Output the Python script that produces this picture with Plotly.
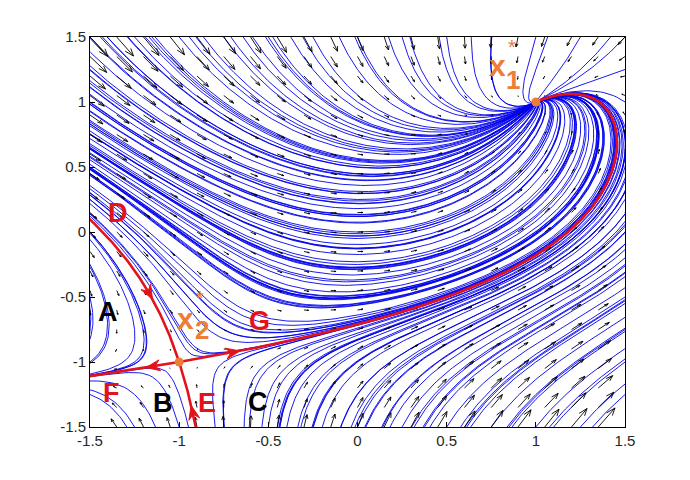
import numpy as np
import plotly.graph_objects as go

# ---------------- data ----------------
tick_vals = [-1.5, -1, -0.5, 0, 0.5, 1, 1.5]
tick_text = ["-1.5", "-1", "-0.5", "0", "0.5", "1", "1.5"]

# equilibria: stable node x1* and saddle x2*
eq_x = [1.0, -1.0]
eq_y = [1.0, -1.0]

# quiver grid
quiver_x = np.linspace(-1.5, 1.5, 21)
quiver_y = np.linspace(-1.5, 1.5, 21)

# streamline seeds
seed_x = np.linspace(-1.5, 1.5, 13)
seed_y = np.linspace(-1.5, 1.5, 13)

# region labels
region_labels = ["A", "B", "C", "D", "E", "F", "G"]
region_label_x = [-1.399, -1.091, -0.558, -1.343, -0.844, -1.377, -0.552]
region_label_y = [-0.615, -1.315, -1.308, 0.146, -1.315, -1.238, -0.685]
region_label_col = ["black", "black", "black", "red", "red", "red", "red"]

# equilibrium labels (pieces of x*_1 and x*_2)
eq_label_text = ["x", "*", "1", "x", "*", "2"]
eq_label_x = [0.783, 0.867, 0.872, -0.967, -0.883, -0.872]
eq_label_y = [1.277, 1.425, 1.169, -0.662, -0.510, -0.754]
eq_label_size = [30, 20, 26, 30, 20, 26]
eq_label_bold = [True, False, True, True, False, True]

# separatrix arrowhead locations (branch, x, y)
arrow_branch = ["stable_up", "unstable_right", "unstable_left", "stable_down"]
arrow_x = [-1.152, -0.66, -1.19, -0.92]
arrow_y = [-0.52, -0.92, -1.02, -1.33]

# ---------------- model ----------------
def field(x, y):
    return 1 - x * y, x - y ** 3


def jacobian(x, y):
    return np.array([[-y, -x], [1.0, -3 * y ** 2]])


XMIN, XMAX, YMIN, YMAX = -1.5, 1.5, -1.5, 1.5


def integrate(x0, y0, sign, h=0.02, nmax=500, node=(1.0, 1.0)):
    x = np.array(x0, float)
    y = np.array(y0, float)
    n = len(x)
    X = np.full((nmax + 1, n), np.nan)
    Y = np.full((nmax + 1, n), np.nan)
    X[0], Y[0] = x, y
    alive = np.ones(n, bool)

    def g(x, y):
        u, v = field(x, y)
        m = np.hypot(u, v) + 1e-12
        return sign * u / m, sign * v / m

    for i in range(nmax):
        k1 = g(x, y)
        k2 = g(x + h / 2 * k1[0], y + h / 2 * k1[1])
        k3 = g(x + h / 2 * k2[0], y + h / 2 * k2[1])
        k4 = g(x + h * k3[0], y + h * k3[1])
        xn = x + h / 6 * (k1[0] + 2 * k2[0] + 2 * k3[0] + k4[0])
        yn = y + h / 6 * (k1[1] + 2 * k2[1] + 2 * k3[1] + k4[1])
        u, v = field(x, y)
        slow = np.hypot(u, v) < 1e-4
        alive &= ~slow
        X[i + 1] = np.where(alive, xn, np.nan)
        Y[i + 1] = np.where(alive, yn, np.nan)
        out = (xn < XMIN - 0.02) | (xn > XMAX + 0.02) | (yn < YMIN - 0.02) | (yn > YMAX + 0.02)
        if sign > 0:
            near = np.hypot(xn - node[0], yn - node[1]) < h
            X[i + 1] = np.where(alive & near, node[0], X[i + 1])
            Y[i + 1] = np.where(alive & near, node[1], Y[i + 1])
            alive &= ~near
        alive &= ~out
        x, y = xn, yn
        if not alive.any():
            break
    return X, Y


def to_segments(X, Y):
    xs, ys = [], []
    for j in range(X.shape[1]):
        col_x = X[:, j]
        col_y = Y[:, j]
        ok = ~np.isnan(col_x)
        if ok.sum() < 2:
            continue
        xs.extend(col_x[ok].tolist() + [None])
        ys.extend(col_y[ok].tolist() + [None])
    return xs, ys


# ---------------- streamlines ----------------
SX, SY = np.meshgrid(seed_x, seed_y)
sx, sy = SX.ravel(), SY.ravel()
Xf, Yf = integrate(sx, sy, +1)
Xb, Yb = integrate(sx, sy, -1)
fx, fy = to_segments(Xf, Yf)
bx, by = to_segments(Xb, Yb)
stream_x = fx + bx
stream_y = fy + by

# ---------------- quiver (MATLAB-like autoscale) ----------------
QX, QY = np.meshgrid(quiver_x, quiver_y)
QU, QV = field(QX, QY)
ngrid = np.sqrt(QX.size)
delx = (QX.max() - QX.min()) / ngrid
dely = (QY.max() - QY.min()) / ngrid
dl = delx ** 2 + dely ** 2
lens = np.sqrt((QU ** 2 + QV ** 2) / dl)
scale = 0.9 / lens.max()
U = QU * scale
V = QV * scale
alpha, beta = 0.33, 0.33
qx, qy = [], []
for x0, y0, u, v in zip(QX.ravel(), QY.ravel(), U.ravel(), V.ravel()):
    qx += [x0, x0 + u, None]
    qy += [y0, y0 + v, None]
    qx += [x0 + u - alpha * (u + beta * v), x0 + u, x0 + u - alpha * (u - beta * v), None]
    qy += [y0 + v - alpha * (v - beta * u), y0 + v, y0 + v - alpha * (v + beta * u), None]

# ---------------- separatrices ----------------
sx0, sy0 = eq_x[1], eq_y[1]
w, vecs = np.linalg.eig(jacobian(sx0, sy0))
iu = int(np.argmax(w))
isd = int(np.argmin(w))
vu = vecs[:, iu] / np.linalg.norm(vecs[:, iu])
vs = vecs[:, isd] / np.linalg.norm(vecs[:, isd])
if vu[0] < 0:
    vu = -vu
if vs[1] < 0:
    vs = -vs  # vs points up-left
eps = 1e-3
branches = {}
Xr, Yr = integrate([sx0 + eps * vu[0]], [sy0 + eps * vu[1]], +1, h=0.005, nmax=2000)
branches["unstable_right"] = (Xr[:, 0], Yr[:, 0], +1)
Xr, Yr = integrate([sx0 - eps * vu[0]], [sy0 - eps * vu[1]], +1, h=0.005, nmax=2000)
branches["unstable_left"] = (Xr[:, 0], Yr[:, 0], +1)
Xr, Yr = integrate([sx0 + eps * vs[0]], [sy0 + eps * vs[1]], -1, h=0.005, nmax=2000)
branches["stable_up"] = (Xr[:, 0], Yr[:, 0], -1)
Xr, Yr = integrate([sx0 - eps * vs[0]], [sy0 - eps * vs[1]], -1, h=0.005, nmax=2000)
branches["stable_down"] = (Xr[:, 0], Yr[:, 0], -1)

red_x, red_y = [], []
for key in ["unstable_right", "unstable_left", "stable_up", "stable_down"]:
    bxr, byr, _ = branches[key]
    ok = ~np.isnan(bxr)
    red_x += [sx0] + bxr[ok].tolist() + [None]
    red_y += [sy0] + byr[ok].tolist() + [None]

# arrowheads (built in pixel space)
PX = 535 / 3.0
PY = 390 / 3.0
ah_x, ah_y = [], []
for key, ax_, ay_ in zip(arrow_branch, arrow_x, arrow_y):
    bxr, byr, sgn = branches[key]
    ok = ~np.isnan(bxr)
    cx, cy = bxr[ok], byr[ok]
    k = int(np.argmin((cx - ax_) ** 2 + (cy - ay_) ** 2))
    k = min(max(k, 2), len(cx) - 3)
    dxp = (cx[k + 2] - cx[k - 2]) * PX * sgn
    dyp = (cy[k + 2] - cy[k - 2]) * PY * sgn
    m = np.hypot(dxp, dyp)
    dxp, dyp = dxp / m, dyp / m
    nxp, nyp = -dyp, dxp
    L, W = 14.0, 5.5
    tipx, tipy = cx[k] * PX, cy[k] * PY
    pts = [
        (tipx, tipy),
        (tipx - L * dxp + W * nxp, tipy - L * dyp + W * nyp),
        (tipx - 0.65 * L * dxp, tipy - 0.65 * L * dyp),
        (tipx - L * dxp - W * nxp, tipy - L * dyp - W * nyp),
        (tipx, tipy),
    ]
    ah_x += [p[0] / PX for p in pts] + [None]
    ah_y += [p[1] / PY for p in pts] + [None]

RED = "#E3121B"
ORANGE = "#EE7D35"

fig = go.Figure()
fig.add_trace(go.Scatter(x=stream_x, y=stream_y, mode="lines",
                         line=dict(color="rgb(0,0,235)", width=0.9), hoverinfo="skip"))
fig.add_trace(go.Scatter(x=qx, y=qy, mode="lines",
                         line=dict(color="black", width=0.9), hoverinfo="skip"))
fig.add_trace(go.Scatter(x=red_x, y=red_y, mode="lines",
                         line=dict(color=RED, width=2.6), hoverinfo="skip"))
fig.add_trace(go.Scatter(x=ah_x, y=ah_y, mode="lines", fill="toself", fillcolor=RED,
                         line=dict(color=RED, width=1), hoverinfo="skip"))
fig.add_trace(go.Scatter(x=eq_x, y=eq_y, mode="markers",
                         marker=dict(color=ORANGE, size=9), hoverinfo="skip"))

for t, x, y, c in zip(region_labels, region_label_x, region_label_y, region_label_col):
    fig.add_annotation(x=x, y=y, text="<b>" + t + "</b>", showarrow=False,
                       font=dict(family="Arial, Liberation Sans", size=27,
                                 color=(RED if c == "red" else "black")),
                       xanchor="center", yanchor="middle")
for t, x, y, s, b in zip(eq_label_text, eq_label_x, eq_label_y, eq_label_size, eq_label_bold):
    fig.add_annotation(x=x, y=y, text=("<b>" + t + "</b>") if b else t, showarrow=False,
                       font=dict(family="Arial, Liberation Sans", size=s, color=ORANGE),
                       xanchor="center", yanchor="middle")

axis_common = dict(range=[-1.5, 1.5], tickvals=tick_vals, ticktext=tick_text,
                   showline=True, mirror=True, linecolor="black", linewidth=1,
                   ticks="inside", ticklen=5, tickcolor="black", showgrid=False,
                   zeroline=False, tickfont=dict(family="Arial, Liberation Sans",
                                                 size=15, color="#262626"))
fig.update_xaxes(**axis_common)
fig.update_yaxes(**axis_common)
fig.update_layout(width=690, height=480, margin=dict(l=90, r=65, t=37, b=53),
                  plot_bgcolor="white", paper_bgcolor="white", showlegend=False)
fig.write_html("out.html")
